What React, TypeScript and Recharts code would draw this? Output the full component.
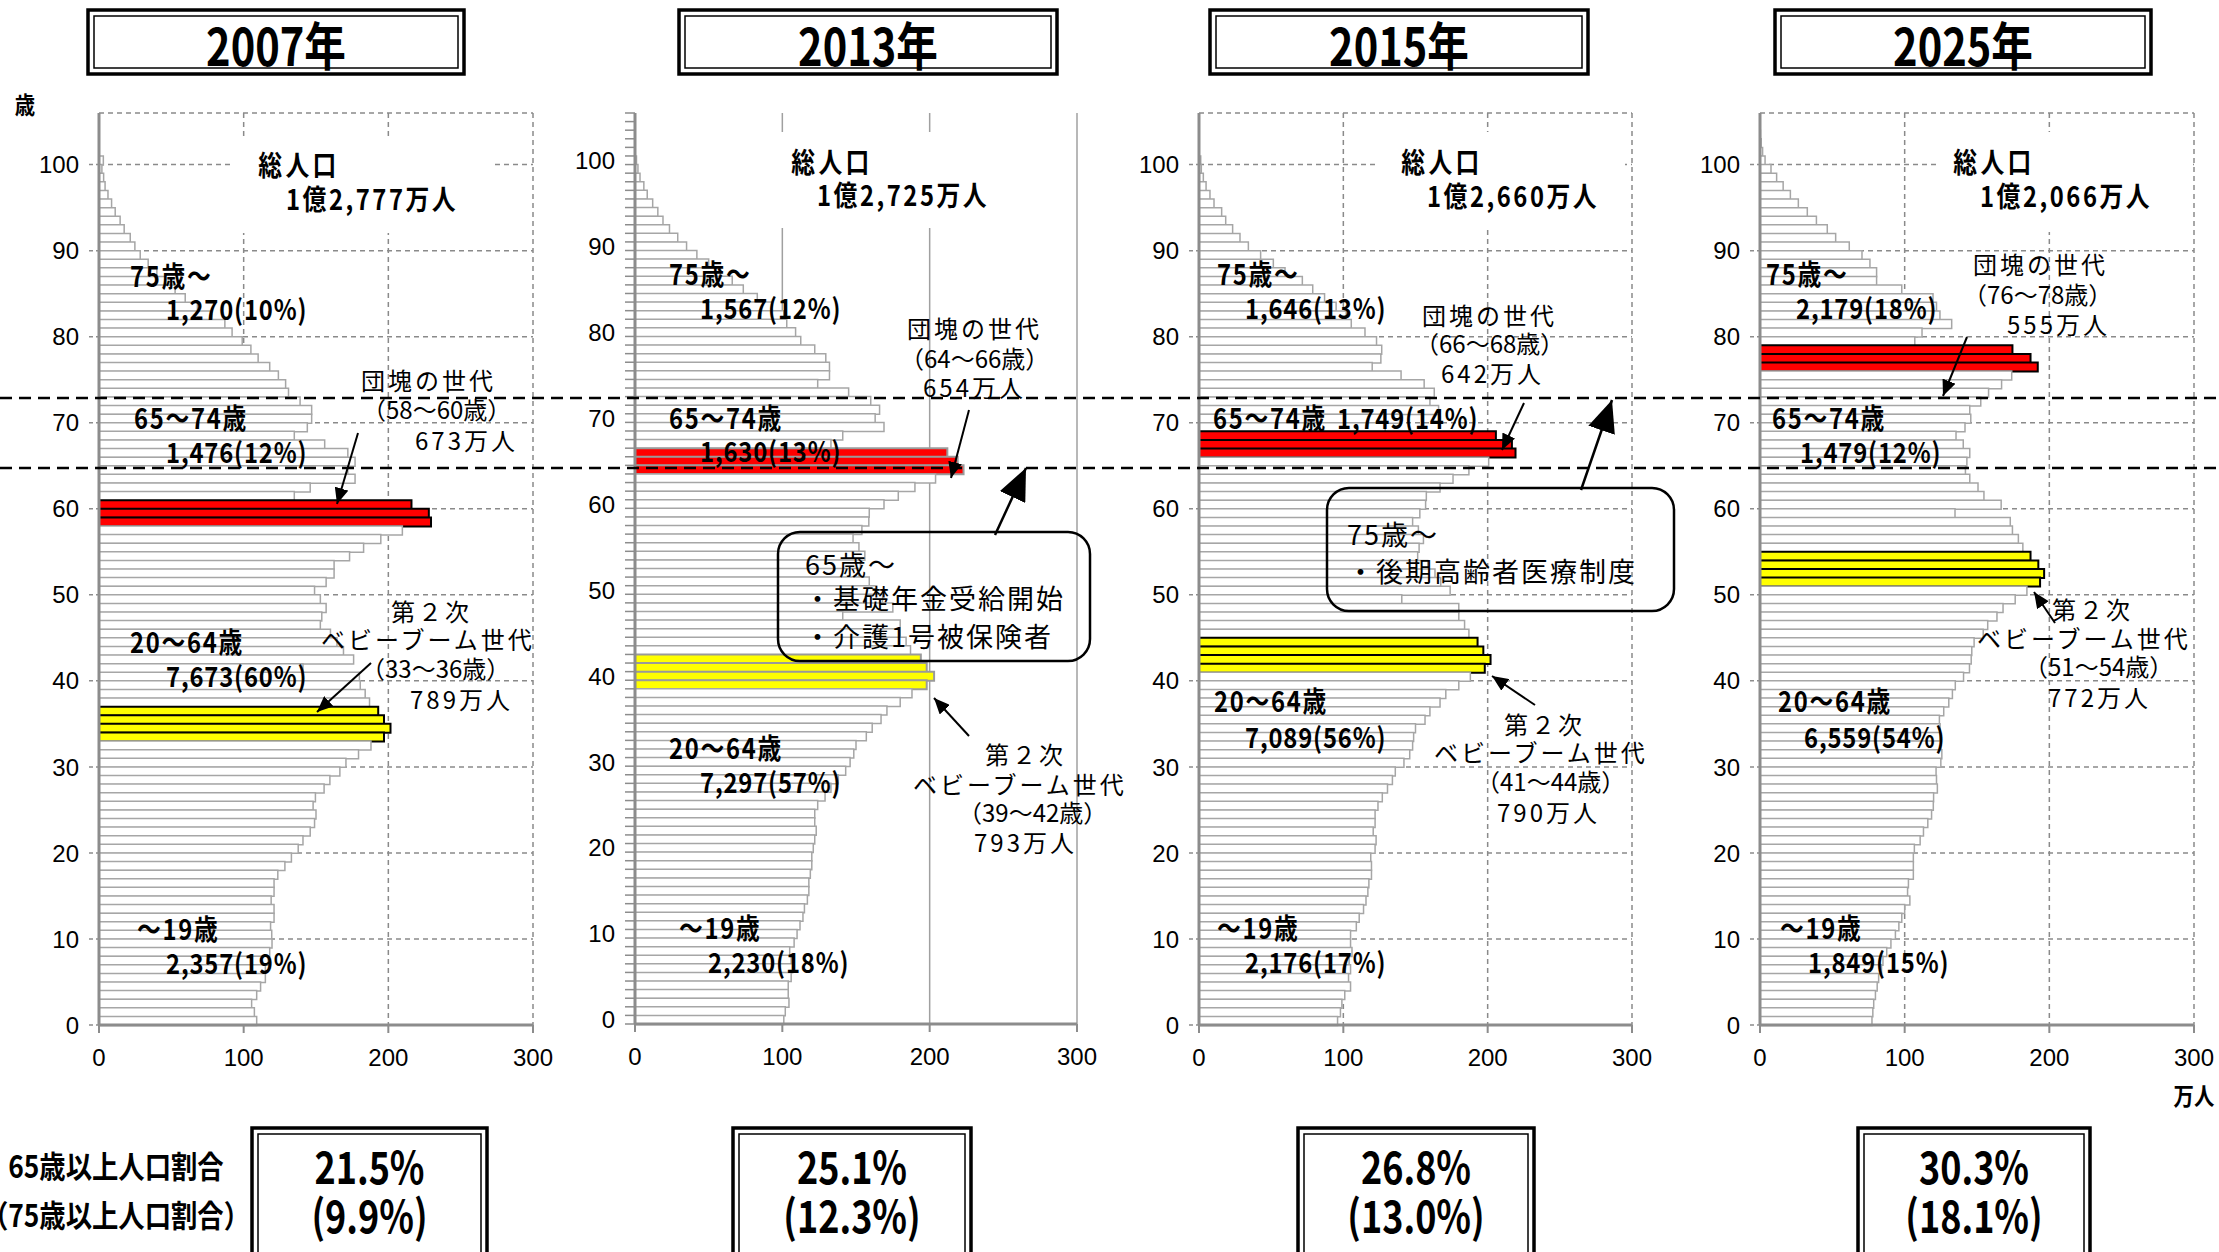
import React from "react";
import { BarChart, Bar, XAxis, YAxis, CartesianGrid, Cell } from "recharts";

// population by single year of age, 0 .. 105 (万人)
const POP_2007 = [
  109, 107.4, 105.5, 109, 111.7, 115, 115, 117, 118, 119.6,
  119.4, 118.6, 121, 121, 119, 121, 121, 123.6, 128.5, 133,
  137.7, 141, 146, 149, 150, 148, 149.6, 155.6, 159.6, 166.5,
  170.7, 179.4, 188, 197, 201.5, 197, 193, 187, 184, 180.6,
  180, 141, 176, 169, 164.5, 160, 153, 154, 157, 153,
  149, 157, 162.5, 162.5, 173.2, 182.9, 194.8, 209.7, 229.5, 228,
  216, 135, 146, 177, 172, 177, 172, 156, 135, 144,
  147, 147, 139, 131, 129, 124, 118, 110, 105, 99,
  92, 87, 78, 68, 59.6, 52.6, 46, 40, 34, 28.5,
  24.8, 21.6, 17.4, 14.6, 11.2, 8.7, 6.2, 4.2, 3.2, 2,
  3, 0, 0, 0, 0, 0,
];
const POP_2013 = [
  101, 102, 104.5, 104, 104, 106, 107, 106, 105, 108,
  110, 112, 114, 115, 117, 118, 118, 119, 120, 120,
  121, 122, 123, 122, 122, 124, 129, 133, 138, 143,
  146, 148.5, 150, 157, 161, 167, 171, 180, 188, 198,
  203, 198, 194, 187, 184, 180, 180, 141, 175, 168,
  164, 159, 152, 153, 156, 152, 148, 154, 158.7, 159,
  169, 178.7, 190, 204, 223, 219, 212, 133, 141, 169,
  163, 166, 160, 145, 124, 132, 132, 129.5, 122, 112.5,
  109, 103, 101, 93, 83, 73.5, 66, 58, 50, 42,
  35, 29, 23.4, 19, 15.5, 12, 8.3, 6, 3.4, 2,
  1, 0, 0, 0, 0, 0,
];
const POP_2015 = [
  96, 98, 99, 101, 105, 103.6, 105, 104, 106, 105,
  105, 109, 111, 114, 115.7, 117, 117.7, 119.5, 119.5, 119,
  122, 122.7, 120.7, 122, 122, 124, 127, 130.6, 134, 136,
  142, 146, 148, 148.7, 150, 156.6, 160, 167, 171, 180,
  188, 198, 202, 197, 193, 187, 184, 180, 180, 140.5,
  174, 167.5, 163.5, 158.5, 151.5, 152.5, 155.5, 152, 148, 153,
  157, 157.5, 167, 176, 187, 200.7, 219.3, 216.8, 205.7, 129,
  139, 166, 160, 163, 156, 140, 120, 126, 126.6, 123,
  115, 105.5, 102, 95, 87, 78.8, 71.6, 59.6, 51.5, 42.7,
  34.2, 28.4, 23.3, 18.5, 15.7, 10.4, 7.6, 4.9, 3, 1.6,
  1.2, 0, 0, 0, 0, 0,
];
const POP_2025 = [
  77.4, 78, 78.6, 79.8, 81, 82, 84, 85, 87.6, 90.5,
  93.6, 96, 98, 100, 103.6, 102, 102.6, 106, 106, 106,
  106.7, 110.7, 113, 116, 118.6, 119.8, 120, 122.6, 122, 121.7,
  125, 125.7, 125, 124.5, 124.5, 124, 127, 130.5, 133, 135,
  140.7, 144.8, 146, 146.4, 148, 154.3, 157.4, 163.8, 168, 176.4,
  184.5, 193.6, 196.4, 192.4, 187, 181.7, 178.6, 174.5, 173, 134.8,
  166.7, 154.8, 150.7, 145, 142, 143, 145, 140.5, 135.5, 141.7,
  145.7, 145, 152.6, 158, 167, 174, 192, 187, 174.5, 107,
  112, 132.5, 124.4, 122, 119.6, 98, 80.6, 80.6, 76, 70.5,
  61.7, 52.3, 46.5, 39, 32.7, 26.5, 21, 16, 11.5, 7.6,
  3.5, 1.8, 0.8, 0.3, 0, 0,
];

const YEARS = ["2007年", "2013年", "2015年", "2025年"];
const DANKAI = [[58, 60], [64, 66], [66, 68], [76, 78]];
const JUNIOR = [[33, 36], [39, 42], [41, 44], [51, 54]];
const RATIO_65 = ["21.5%", "25.1%", "26.8%", "30.3%"];
const RATIO_75 = ["(9.9%)", "(12.3%)", "(13.0%)", "(18.1%)"];
const AGE_TICKS = [0, 10, 20, 30, 40, 50, 60, 70, 80, 90, 100];
const X_TICKS = [0, 100, 200, 300];

const NUM_FONT = "'Liberation Sans', Arial, sans-serif";
const JP_FONT = "'Noto Sans CJK JP', sans-serif";

const PANELS = [
  { pop: POP_2007, l: 99, t: 113, r: 533, b: 1025, solid: false },
  { pop: POP_2013, l: 635, t: 113, r: 1077, b: 1024, solid: true },
  { pop: POP_2015, l: 1199, t: 113, r: 1632, b: 1025, solid: false },
  { pop: POP_2025, l: 1760, t: 113, r: 2194, b: 1025, solid: false },
];
const TITLE_X = [[88, 464], [679, 1057], [1210, 1588], [1775, 2151]];
const RATIO_X = [[252, 487], [733, 971], [1298, 1534], [1858, 2090]];

function makeAgeTick(minor: boolean, band: number) {
  return (props: any) => {
    const { x, y, payload } = props;
    const v = payload.value;
    if (v % 10 !== 0 || v > 100) return <g />;
    return (
      <text x={x} y={minor ? y - band / 2 : y} dy="0.36em" textAnchor="end"
        fontSize={24} fontFamily={NUM_FONT} fill="#000">
        {v}
      </text>
    );
  };
}

function Pyramid({ idx }: { idx: number }) {
  const p = PANELS[idx];
  const [r0, r1] = DANKAI[idx];
  const [y0, y1] = JUNIOR[idx];
  const rows = p.pop.map((v, age) => ({ age, v })).reverse();
  const plotH = p.b - p.t;
  const band = plotH / p.pop.length;
  const minor = p.solid;
  const ticks = minor ? [...p.pop.map((_, a) => a), p.pop.length] : AGE_TICKS;
  const gridColor = minor ? "#a0a0a0" : "#8a8a8a";

  return (
    <div style={{ position: "absolute", left: p.l - 100, top: p.t - 10 }}>
      <BarChart width={p.r - p.l + 130} height={plotH + 70} layout="vertical" data={rows}
        margin={{ top: 10, right: 30, bottom: 0, left: 20 }} barCategoryGap={0} barGap={0}>
        <CartesianGrid horizontal={!minor} vertical stroke={gridColor} strokeWidth={1.5}
          strokeDasharray={minor ? undefined : "5 4"} />
        <XAxis type="number" domain={[0, 300]} ticks={X_TICKS} allowDataOverflow interval={0}
          height={60} tickSize={8} tickMargin={16}
          axisLine={{ stroke: "#8c8c8c", strokeWidth: 3 }}
          tickLine={{ stroke: "#8c8c8c", strokeWidth: 2 }}
          tick={{ fontSize: 24, fill: "#000", fontFamily: NUM_FONT }} />
        <XAxis xAxisId="top" orientation="top" type="number" domain={[0, 300]} allowDataOverflow
          height={0} tick={false} tickLine={false} axisLine={{ stroke: "#000", strokeWidth: 2 }} />
        <YAxis dataKey="age" type="number" domain={[0, p.pop.length]} reversed allowDataOverflow
          ticks={ticks} interval={0} width={80} tickSize={10} tickMargin={10}
          axisLine={{ stroke: "#8c8c8c", strokeWidth: 3 }}
          tickLine={{ stroke: "#8c8c8c", strokeWidth: 1.5, strokeDasharray: minor ? undefined : "4 3" }}
          tick={makeAgeTick(minor, band)} />
        <YAxis yAxisId="right" dataKey="age" orientation="right" type="number"
          domain={[0, p.pop.length]} allowDataOverflow width={0} tick={false} tickLine={false}
          axisLine={{ stroke: "#000", strokeWidth: 2 }} />
        <YAxis yAxisId="cat" type="category" dataKey="age" hide />
        <Bar dataKey="v" yAxisId="cat" isAnimationActive={false}>
          {rows.map((row) => {
            const red = row.age >= r0 && row.age <= r1;
            const yel = row.age >= y0 && row.age <= y1;
            const hi = red || yel;
            return (
              <Cell key={row.age} fill={red ? "#ff0000" : yel ? "#ffff00" : "#ffffff"}
                stroke={hi ? (minor ? "#9a9a9a" : "#000") : "#a6a6a6"}
                strokeWidth={hi ? 2 : 1.5} />
            );
          })}
        </Bar>
      </BarChart>
    </div>
  );
}

// text helper; sx < 1 squeezes the glyphs to mimic the condensed bold face
function T({ x, y, children, size = 25, bold = false, anchor = "start", ls = 0, sx = 1 }: any) {
  return (
    <text x={0} y={0} transform={`translate(${x},${y}) scale(${sx},1)`} fontSize={size}
      fontWeight={bold ? 700 : 400} fontFamily={JP_FONT} textAnchor={anchor}
      dominantBaseline="central" letterSpacing={ls} fill="#000">
      {children}
    </text>
  );
}

function DoubleBox({ x0, x1, y0, y1 }: any) {
  return (
    <g fill="none" stroke="#000">
      <rect x={x0} y={y0} width={x1 - x0} height={y1 - y0} strokeWidth={3.5} />
      <rect x={x0 + 6} y={y0 + 6} width={x1 - x0 - 12} height={y1 - y0 - 12} strokeWidth={1.5} />
    </g>
  );
}

function Arrow({ x1, y1, x2, y2, big = false }: any) {
  return (
    <line x1={x1} y1={y1} x2={x2} y2={y2} stroke="#000" strokeWidth={big ? 2.5 : 2}
      markerEnd={big ? "url(#bigHead)" : "url(#smallHead)"} />
  );
}

function Overlay() {
  const B = { bold: true, size: 28, sx: 0.85, ls: 1 };
  const N = { size: 24, ls: 3 };
  const P = { size: 24, ls: 0 };
  const C = { size: 27, ls: 2 };
  return (
    <svg width={2219} height={1252} style={{ position: "absolute", left: 0, top: 0, pointerEvents: "none" }}>
      <defs>
        <marker id="smallHead" markerUnits="userSpaceOnUse" markerWidth={16} markerHeight={14}
          refX={16} refY={7} orient="auto">
          <path d="M0,0 L16,7 L0,14 z" fill="#000" />
        </marker>
        <marker id="bigHead" markerUnits="userSpaceOnUse" markerWidth={32} markerHeight={28}
          refX={32} refY={14} orient="auto">
          <path d="M0,0 L32,14 L0,28 z" fill="#000" />
        </marker>
      </defs>

      {/* white boxes behind total population */}
      <rect x={234} y={137} width={258} height={96} fill="#fff" />
      <rect x={775} y={132} width={235} height={96} fill="#fff" />
      <rect x={1375} y={132} width={250} height={98} fill="#fff" />
      <rect x={1937} y={132} width={256} height={100} fill="#fff" />

      {/* age 75 / 65 borders */}
      <line x1={0} x2={2219} y1={398} y2={398} stroke="#000" strokeWidth={2.5} strokeDasharray="12 7" />
      <line x1={0} x2={2219} y1={468} y2={468} stroke="#000" strokeWidth={2.5} strokeDasharray="12 7" />

      {YEARS.map((yr, i) => (
        <g key={yr}>
          <DoubleBox x0={TITLE_X[i][0]} x1={TITLE_X[i][1]} y0={10} y1={74} />
          <T x={(TITLE_X[i][0] + TITLE_X[i][1]) / 2} y={43} size={52} sx={0.8} bold anchor="middle">{yr}</T>
          <DoubleBox x0={RATIO_X[i][0]} x1={RATIO_X[i][1]} y0={1128} y1={1262} />
          <T x={(RATIO_X[i][0] + RATIO_X[i][1]) / 2} y={1165} size={45} sx={0.8} bold anchor="middle">{RATIO_65[i]}</T>
          <T x={(RATIO_X[i][0] + RATIO_X[i][1]) / 2} y={1214} size={45} sx={0.8} bold anchor="middle">{RATIO_75[i]}</T>
        </g>
      ))}

      <T x={25} y={103} bold size={24} sx={0.85} anchor="middle">歳</T>
      <T x={2194} y={1094} bold size={24} sx={0.85} anchor="middle">万人</T>
      <T x={116} y={1165} bold size={31} sx={0.85} anchor="middle">65歳以上人口割合</T>
      <T x={116} y={1214} bold size={31} sx={0.85} anchor="middle">（75歳以上人口割合）</T>

      {/* 2007 */}
      <T x={299} y={164} {...B} anchor="middle" ls={4}>総人口</T>
      <T x={286} y={198} {...B} ls={3}>1億2,777万人</T>
      <T x={130} y={275} {...B} ls={2}>75歳～</T>
      <T x={166} y={308} {...B}>1,270(10%)</T>
      <T x={134} y={417} {...B} ls={2}>65～74歳</T>
      <T x={166} y={451} {...B}>1,476(12%)</T>
      <T x={361} y={379} {...N}>団塊の世代</T>
      <T x={362} y={408} {...P}>（58～60歳）</T>
      <T x={415} y={439} {...N}>673万人</T>
      <Arrow x1={358} y1={433} x2={337} y2={504} />
      <T x={391} y={610} {...N}>第２次</T>
      <T x={321} y={638} {...N}>ベビーブーム世代</T>
      <T x={361} y={667} {...P}>（33～36歳）</T>
      <T x={410} y={698} {...N}>789万人</T>
      <Arrow x1={371} y1={663} x2={317} y2={712} />
      <T x={130} y={641} {...B} ls={2}>20～64歳</T>
      <T x={166} y={675} {...B}>7,673(60%)</T>
      <T x={137} y={928} {...B} ls={2}>～19歳</T>
      <T x={166} y={962} {...B}>2,357(19%)</T>

      {/* 2013 */}
      <T x={832} y={161} {...B} anchor="middle" ls={4}>総人口</T>
      <T x={817} y={194} {...B} ls={3}>1億2,725万人</T>
      <T x={669} y={273} {...B} ls={2}>75歳～</T>
      <T x={700} y={307} {...B}>1,567(12%)</T>
      <T x={669} y={417} {...B} ls={2}>65～74歳</T>
      <T x={700} y={450} {...B}>1,630(13%)</T>
      <T x={907} y={327} {...N}>団塊の世代</T>
      <T x={900} y={357} {...P}>（64～66歳）</T>
      <T x={923} y={386} {...N}>654万人</T>
      <Arrow x1={969} y1={410} x2={951} y2={478} />
      <rect x={778} y={532} width={312} height={129} rx={22} fill="none" stroke="#000" strokeWidth={2.5} />
      <T x={805} y={563} {...C}>65歳～</T>
      <T x={804} y={597} {...C}>・基礎年金受給開始</T>
      <T x={804} y={635} {...C}>・介護1号被保険者</T>
      <Arrow x1={995} y1={535} x2={1026} y2={468} big />
      <T x={985} y={753} {...N}>第２次</T>
      <T x={913} y={783} {...N}>ベビーブーム世代</T>
      <T x={958} y={811} {...P}>（39～42歳）</T>
      <T x={974} y={841} {...N}>793万人</T>
      <Arrow x1={969} y1={736} x2={934} y2={698} />
      <T x={669} y={747} {...B} ls={2}>20～64歳</T>
      <T x={700} y={781} {...B}>7,297(57%)</T>
      <T x={679} y={927} {...B} ls={2}>～19歳</T>
      <T x={708} y={961} {...B}>2,230(18%)</T>

      {/* 2015 */}
      <T x={1442} y={161} {...B} anchor="middle" ls={4}>総人口</T>
      <T x={1427} y={195} {...B} ls={3}>1億2,660万人</T>
      <T x={1217} y={273} {...B} ls={2}>75歳～</T>
      <T x={1245} y={307} {...B}>1,646(13%)</T>
      <T x={1213} y={417} {...B} ls={2}>65～74歳</T>
      <T x={1337} y={417} {...B}>1,749(14%)</T>
      <T x={1422} y={314} {...N}>団塊の世代</T>
      <T x={1415} y={342} {...P}>（66～68歳）</T>
      <T x={1441} y={372} {...N}>642万人</T>
      <Arrow x1={1524} y1={403} x2={1502} y2={450} />
      <rect x={1327} y={488} width={347} height={123} rx={22} fill="none" stroke="#000" strokeWidth={2.5} />
      <T x={1347} y={533} {...C}>75歳～</T>
      <T x={1347} y={570} {...C}>・後期高齢者医療制度</T>
      <Arrow x1={1581} y1={490} x2={1612} y2={400} big />
      <T x={1504} y={723} {...N}>第２次</T>
      <T x={1434} y={751} {...N}>ベビーブーム世代</T>
      <T x={1476} y={780} {...P}>（41～44歳）</T>
      <T x={1497} y={811} {...N}>790万人</T>
      <Arrow x1={1535} y1={705} x2={1492} y2={676} />
      <T x={1214} y={700} {...B} ls={2}>20～64歳</T>
      <T x={1245} y={736} {...B}>7,089(56%)</T>
      <T x={1217} y={927} {...B} ls={2}>～19歳</T>
      <T x={1245} y={961} {...B}>2,176(17%)</T>

      {/* 2025 */}
      <T x={1994} y={161} {...B} anchor="middle" ls={4}>総人口</T>
      <T x={1980} y={195} {...B} ls={3}>1億2,066万人</T>
      <T x={1766} y={273} {...B} ls={2}>75歳～</T>
      <T x={1796} y={307} {...B}>2,179(18%)</T>
      <T x={1973} y={263} {...N}>団塊の世代</T>
      <T x={1963} y={293} {...P}>（76～78歳）</T>
      <T x={2007} y={323} {...N}>555万人</T>
      <Arrow x1={1967} y1={337} x2={1943} y2={396} />
      <T x={1772} y={417} {...B} ls={2}>65～74歳</T>
      <T x={1800} y={451} {...B}>1,479(12%)</T>
      <T x={2052} y={608} {...N}>第２次</T>
      <T x={1977} y={637} {...N}>ベビーブーム世代</T>
      <T x={2024} y={665} {...P}>（51～54歳）</T>
      <T x={2048} y={696} {...N}>772万人</T>
      <Arrow x1={2055} y1={623} x2={2034} y2={592} />
      <T x={1778} y={700} {...B} ls={2}>20～64歳</T>
      <T x={1804} y={736} {...B}>6,559(54%)</T>
      <T x={1780} y={927} {...B} ls={2}>～19歳</T>
      <T x={1808} y={961} {...B}>1,849(15%)</T>
    </svg>
  );
}

export default function App() {
  return (
    <div style={{ position: "absolute", left: 0, top: 0, width: 2219, height: 1252, background: "#fff", overflow: "hidden" }}>
      {PANELS.map((_, i) => (
        <Pyramid key={i} idx={i} />
      ))}
      <Overlay />
    </div>
  );
}
